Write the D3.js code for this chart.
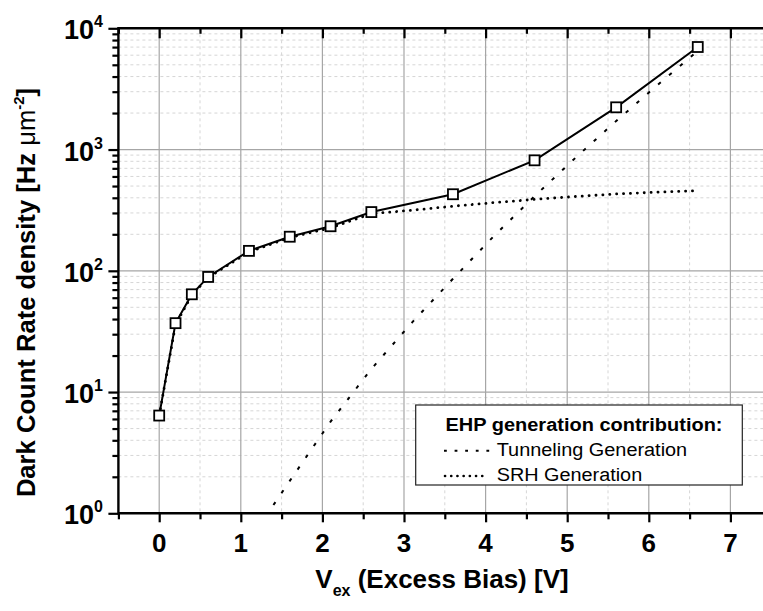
<!DOCTYPE html>
<html><head><meta charset="utf-8">
<script src="https://cdn.jsdelivr.net/npm/d3@7"></script>
<style>
html,body{margin:0;padding:0;background:#fff;}
svg{display:block;font-family:"Liberation Sans",Arial,sans-serif;}
</style></head>
<body>
<svg id="c" width="763" height="611"></svg>
<script>
// ---- data ----
const vex = [0, 0.2, 0.4, 0.6, 1.1, 1.6, 2.1, 2.6, 3.6, 4.6, 5.6, 6.6];
const dcr = [6.4, 37, 64, 89, 146, 191, 233, 305, 428, 815, 2230, 7010];
const srhV = [0, 0.2, 0.4, 0.6, 1.1, 1.6, 2.1, 2.6, 3.1, 3.6, 4.1, 4.6, 5.1, 5.6, 6.1, 6.6];
const srh = [6.4, 36, 63, 88, 143, 188, 226, 296, 316, 341, 365, 388, 410, 430, 445, 458];
const tunV = [1.4, 1.6, 2.1, 2.6, 3.1, 3.6, 4.1, 4.6, 5.1, 5.6, 6.1, 6.6];
const tun = [1.17, 1.85, 5.7, 15.5, 37.6, 86, 193, 412, 853, 1718, 3375, 6500];
const xTicks = [0, 1, 2, 3, 4, 5, 6, 7];
const xMinor = [-0.5, 0.5, 1.5, 2.5, 3.5, 4.5, 5.5, 6.5, 7.5];
const yTicks = [1, 10, 100, 1000, 10000];
const yExp = ["0", "1", "2", "3", "4"];
const legendTitle = "EHP generation contribution:";
const legendNames = ["Tunneling Generation", "SRH Generation"];

const svg = d3.select("#c");
const L = 118.4, R = 771.2, T = 28.3, B = 513.3;
const x = d3.scaleLinear().domain([-0.5, 7.5]).range([L, R]);
const y = d3.scaleLog().domain([1, 10000]).range([B, T]);

const yMinor = [];
for (let d = 1; d < 10000; d *= 10) for (let k = 2; k <= 9; k++) yMinor.push(d * k);

svg.append("defs").append("clipPath").attr("id", "clip")
  .append("rect").attr("x", L).attr("y", T).attr("width", R - L).attr("height", B - T);

// grid
const g = svg.append("g").attr("clip-path", "url(#clip)");
g.selectAll(".mx").data(xMinor).join("line")
  .attr("x1", d => x(d)).attr("x2", d => x(d)).attr("y1", T).attr("y2", B)
  .attr("stroke", "#d6d6d6").attr("stroke-width", 1).attr("stroke-dasharray", "3,3");
g.selectAll(".my").data(yMinor).join("line")
  .attr("x1", L).attr("x2", R).attr("y1", d => y(d)).attr("y2", d => y(d))
  .attr("stroke", "#d6d6d6").attr("stroke-width", 1).attr("stroke-dasharray", "3,3");
g.selectAll(".Mx").data(xTicks).join("line")
  .attr("x1", d => x(d)).attr("x2", d => x(d)).attr("y1", T).attr("y2", B)
  .attr("stroke", "#a6a6a6").attr("stroke-width", 1.2);
g.selectAll(".My").data(yTicks.slice(1, -1)).join("line")
  .attr("x1", L).attr("x2", R).attr("y1", d => y(d)).attr("y2", d => y(d))
  .attr("stroke", "#a6a6a6").attr("stroke-width", 1.2);

// series
const line = d3.line().x(d => x(d[0])).y(d => y(d[1]));
g.append("path").datum(tunV.map((v, i) => [v, tun[i]]))
  .attr("d", line).attr("fill", "none").attr("stroke", "#000")
  .attr("stroke-width", 2).attr("stroke-dasharray", "3.5,10.8");
g.append("path").datum(srhV.map((v, i) => [v, srh[i]]))
  .attr("d", line).attr("fill", "none").attr("stroke", "#000")
  .attr("stroke-width", 2.8).attr("stroke-linecap", "round").attr("stroke-dasharray", "0.1,6.8");
g.append("path").datum(vex.map((v, i) => [v, dcr[i]]))
  .attr("d", line).attr("fill", "none").attr("stroke", "#000").attr("stroke-width", 2);
g.selectAll(".pt").data(vex.map((v, i) => [v, dcr[i]])).join("rect")
  .attr("x", d => x(d[0]) - 5).attr("y", d => y(d[1]) - 5)
  .attr("width", 10).attr("height", 10)
  .attr("fill", "#fff").attr("stroke", "#000").attr("stroke-width", 1.8);

// axes
function styleAxis(sel) {
  sel.select(".domain").remove();
  sel.selectAll(".tick line").attr("stroke", "#000").attr("stroke-width", 2.2);
  sel.selectAll("text").remove();
}
// bottom
svg.append("g").attr("transform", `translate(0,${B})`)
  .call(d3.axisBottom(x).tickValues(xTicks).tickSize(9)).call(styleAxis);
svg.append("g").attr("transform", `translate(0,${B})`)
  .call(d3.axisBottom(x).tickValues(xMinor).tickSize(6)).call(styleAxis);
// top (ticks inward)
svg.append("g").attr("transform", `translate(0,${T})`)
  .call(d3.axisBottom(x).tickValues(xTicks).tickSize(10)).call(styleAxis);
svg.append("g").attr("transform", `translate(0,${T})`)
  .call(d3.axisBottom(x).tickValues(xMinor).tickSize(5.5)).call(styleAxis);
// left
svg.append("g").attr("transform", `translate(${L},0)`)
  .call(d3.axisLeft(y).tickValues(yTicks).tickSize(10)).call(styleAxis);
svg.append("g").attr("transform", `translate(${L},0)`)
  .call(d3.axisLeft(y).tickValues(yMinor).tickSize(6)).call(styleAxis);

// axis lines
svg.append("line").attr("x1", L).attr("x2", 763).attr("y1", B).attr("y2", B)
  .attr("stroke", "#000").attr("stroke-width", 2.6);
svg.append("line").attr("x1", L).attr("x2", 763).attr("y1", T).attr("y2", T)
  .attr("stroke", "#000").attr("stroke-width", 2.6);
svg.append("line").attr("x1", L).attr("x2", L).attr("y1", T - 1.3).attr("y2", B + 1.3)
  .attr("stroke", "#000").attr("stroke-width", 2.4);

// tick labels
svg.selectAll(".xl").data(xTicks).join("text")
  .attr("x", d => x(d)).attr("y", 552).attr("text-anchor", "middle")
  .attr("font-size", 26).attr("font-weight", "bold").attr("fill", "#000")
  .text(d => d);
const yl = svg.selectAll(".yl").data(yTicks).join("text")
  .attr("x", 103).attr("y", d => y(d) + 11).attr("text-anchor", "end")
  .attr("font-size", 27).attr("font-weight", "bold").attr("fill", "#000");
yl.append("tspan").text("10");
yl.append("tspan").attr("font-size", 16).attr("dy", -12).text((d, i) => yExp[i]);

// axis titles
const xt = svg.append("text").attr("x", 442).attr("y", 588).attr("text-anchor", "middle")
  .attr("font-size", 26).attr("font-weight", "bold").attr("fill", "#000");
xt.append("tspan").text("V");
xt.append("tspan").attr("font-size", 16).attr("dy", 8).text("ex");
xt.append("tspan").attr("dy", -8).text(" (Excess Bias) [V]");

const ytl = svg.append("text").attr("transform", "translate(35,292.5) rotate(-90)")
  .attr("text-anchor", "middle").attr("font-size", 25.6).attr("font-weight", "bold").attr("fill", "#000");
ytl.append("tspan").text("Dark Count Rate density [Hz ");
ytl.append("tspan").attr("font-weight", "normal").text("μm");
ytl.append("tspan").attr("font-size", 15).attr("dy", -11).text("-2");
ytl.append("tspan").attr("dy", 11).text("]");

// legend
const lg = svg.append("g");
lg.append("rect").attr("x", 415.7).attr("y", 405).attr("width", 326.6).attr("height", 80)
  .attr("fill", "#fff").attr("stroke", "#222").attr("stroke-width", 1.2);
lg.append("text").attr("x", 445.5).attr("y", 430.5).attr("font-size", 18).attr("font-weight", "bold")
  .attr("textLength", 277).attr("lengthAdjust", "spacingAndGlyphs").text(legendTitle);
lg.append("line").attr("x1", 444).attr("x2", 490).attr("y1", 450.7).attr("y2", 450.7)
  .attr("stroke", "#000").attr("stroke-width", 2).attr("stroke-dasharray", "2.8,7.8");
lg.append("line").attr("x1", 445).attr("x2", 488).attr("y1", 476).attr("y2", 476)
  .attr("stroke", "#000").attr("stroke-width", 2.6).attr("stroke-linecap", "round").attr("stroke-dasharray", "0.1,6.1");
lg.append("text").attr("x", 496.7).attr("y", 456).attr("font-size", 18)
  .attr("textLength", 190.5).attr("lengthAdjust", "spacingAndGlyphs").text(legendNames[0]);
lg.append("text").attr("x", 496.7).attr("y", 480.7).attr("font-size", 18)
  .attr("textLength", 145.5).attr("lengthAdjust", "spacingAndGlyphs").text(legendNames[1]);
</script>
</body></html>
